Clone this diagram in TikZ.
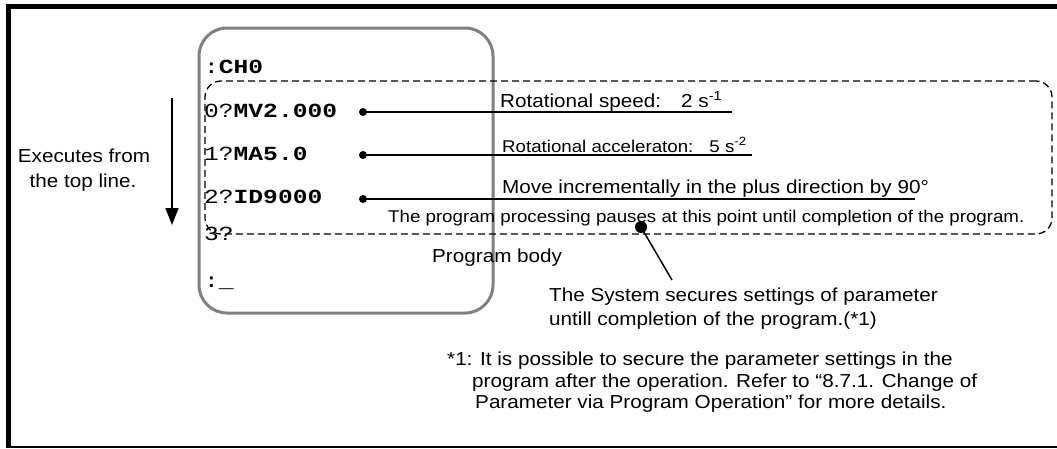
\documentclass[tikz,border=0pt]{standalone}
\usepackage{fontspec}
\setmainfont{Liberation Sans}[FakeStretch=1.1]
\newfontfamily\monof{Liberation Mono}[FakeStretch=1.23]
\usetikzlibrary{arrows.meta}
\definecolor{boxgray}{RGB}{128,128,128}
\begin{document}
\begin{tikzpicture}[x=1pt,y=-1pt,
  txt/.style={inner sep=0pt, anchor=base west, font=\fontsize{18.8}{22}\selectfont},
  ctxt/.style={inner sep=0pt, anchor=base, font=\fontsize{18.8}{22}\selectfont},
  small/.style={inner sep=0pt, anchor=base west, font=\fontsize{17}{20}\selectfont},
  code/.style={inner sep=0pt, anchor=base west, font=\monof\fontsize{20}{22}\selectfont},
  lead/.style={line width=1.5pt},
  dotm/.style={circle, fill=black, inner sep=0pt, minimum size=8pt},
]
\useasboundingbox (0,0) rectangle (1057,448);
% outer frame
\draw[line width=5pt] (6,6.5) -- (1057,6.5);
\draw[line width=5pt] (8.5,4) -- (8.5,448);
\draw[line width=1.5pt] (6,447) -- (1057,447);
% screen box and program body box
\node[draw=boxgray, line width=3pt, rounded corners=28pt, minimum width=294pt, minimum height=285pt, inner sep=0pt] (screen) at (346,170.5) {};
\node[draw, dashed, dash pattern=on 7pt off 4pt, line width=1.3pt, rounded corners=16pt, minimum width=847pt, minimum height=153pt, inner sep=0pt] (body) at (628.5,157.5) {};
% code lines
\node[code] (l0) at (204,73) {:\textbf{CH0}};
\node[code] (l1) at (204,117) {0?\textbf{MV2.000}};
\node[code] (l2) at (204,160) {1?\textbf{MA5.0}};
\node[code] (l3) at (204,203) {2?\textbf{ID9000}};
\node[code] (l4) at (204,240) {3?};
\node[code] (l5) at (204,287) {:\_};
% leaders
\node[dotm] (d1) at (363,112) {};
\node[dotm] (d2) at (363,155) {};
\node[dotm] (d3) at (363,199) {};
\coordinate (e1) at (732,112);
\coordinate (e2) at (752,155);
\coordinate (e3) at (915,199);
\draw[lead] (d1.center) -- (e1);
\draw[lead] (d2.center) -- (e2);
\draw[lead] (d3.center) -- (e3);
% descriptions
\node[txt] (t1) at (500,107) {Rotational speed:\hspace{20pt}2 s\textsuperscript{-1}};
\node[small] (t2) at (502,152) {Rotational acceleraton:\hspace{16pt}5 s\textsuperscript{-2}};
\node[txt] (t3) at (502,193) {Move incrementally in the plus direction by 90°};
\node[small] (t4) at (388,222) {The program processing pauses at this point until completion of the program.};
\node[txt] (pb) at (432,262) {Program body};
% execution arrow
\node[ctxt] (ex1) at (84,162) {Executes from};
\node[ctxt] (ex2) at (83,187) {the top line.};
\coordinate (a1) at (172,98);
\coordinate (a2) at (172,225);
\draw[line width=1.5pt, -{Triangle[length=17pt,width=13pt]}] (a1) -- (a2);
% system note
\node[dotm, minimum size=12pt] (pd) at (641,227) {};
\coordinate (pe) at (672,280);
\draw[lead] (pd.center) -- (pe);
\node[txt] (s1) at (549,301) {The System secures settings of parameter};
\node[txt] (s2) at (549,325) {untill completion of the program.(*1)};
% footnote
\node[txt] (f1) at (447,365) {*1: It is possible to secure the parameter settings in the};
\node[txt] (f2) at (472,387) {program after the operation. Refer to “8.7.1. Change of};
\node[txt] (f3) at (475,408) {Parameter via Program Operation” for more details.};
\end{tikzpicture}
\end{document}
